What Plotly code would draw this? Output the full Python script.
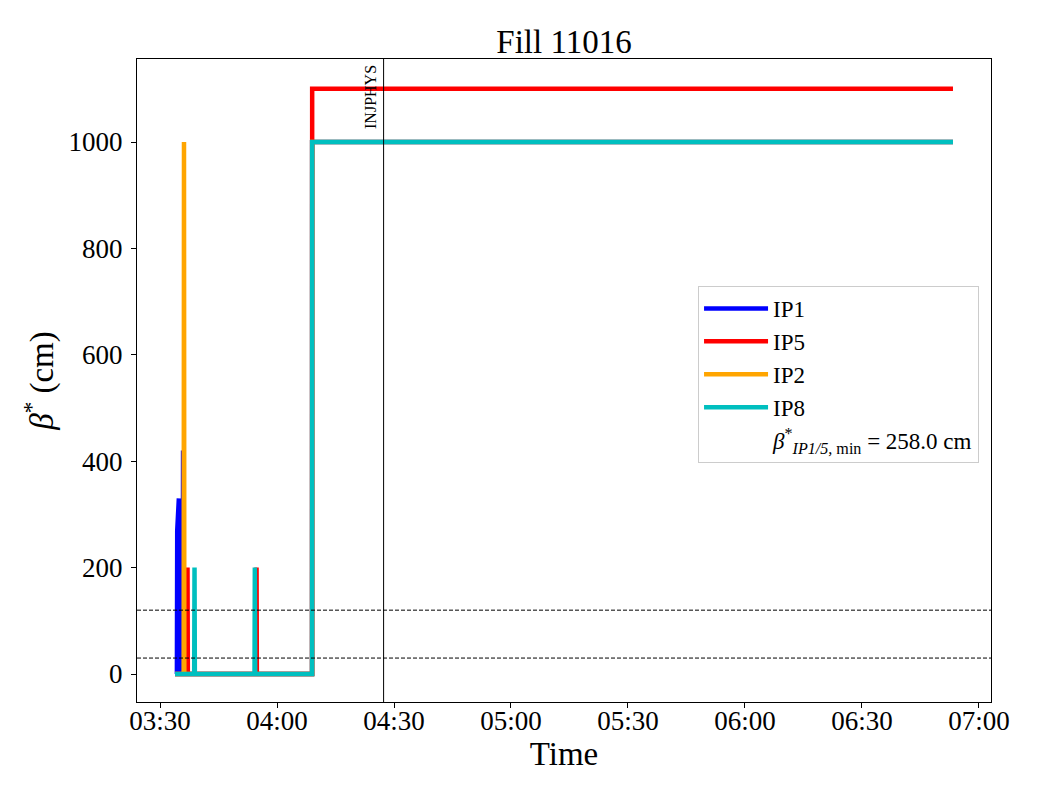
import plotly.graph_objects as go

DAY = "2025-08-15 "

# Series data (time of day, beta* in cm)
ip1_time = ["03:33:51", "03:34:20", "03:34:25", "03:34:50", "03:34:55", "03:35:50", "03:35:55", "03:36:00", "04:09:00", "04:09:01", "06:53:20"]
ip1_beta = [0, 0, 270, 330, 0, 0, 420, 0, 0, 1000, 1000]

ip5_time = ["03:33:51", "03:36:58", "03:37:03", "03:37:08", "03:54:40", "03:54:45", "03:54:50", "04:09:00", "04:09:01", "06:53:20"]
ip5_beta = [0, 0, 200, 0, 0, 200, 0, 0, 1100, 1100]

ip2_time = ["03:33:51", "03:36:04", "03:36:09", "03:36:14", "04:09:00", "04:09:01", "06:53:20"]
ip2_beta = [0, 0, 1000, 0, 0, 1000, 1000]

ip8_time = ["03:33:51", "03:38:46", "03:38:51", "03:38:56", "03:54:14", "03:54:19", "03:54:24", "04:09:00", "04:09:01", "06:53:20"]
ip8_beta = [0, 0, 200, 0, 0, 200, 0, 0, 1000, 1000]

series_names = ["IP1", "IP5", "IP2", "IP8"]
series_colors = ["#0000ff", "#ff0000", "#ffa500", "#00bfbf"]

injphys_time = "04:27:20"
ref_lines = [120, 30]
beta_min_label = "<i>β</i><sup>*</sup><sub><i>IP1/5,</i> min</sub> = 258.0 cm"

x_range = ["03:24:06", "07:03:05"]
y_range = [-52.6, 1156]
x_ticks = ["03:30", "04:00", "04:30", "05:00", "05:30", "06:00", "06:30", "07:00"]
y_ticks = [0, 200, 400, 600, 800, 1000]

FONT = "Liberation Serif, Times New Roman, serif"

fig = go.Figure()
data = [(ip1_time, ip1_beta), (ip5_time, ip5_beta), (ip2_time, ip2_beta), (ip8_time, ip8_beta)]
for (t, v), name, color in zip(data, series_names, series_colors):
    fig.add_trace(go.Scatter(
        x=[DAY + s for s in t], y=v, mode="lines", name=name, legendgroup=name,
        line=dict(color=color, width=4.5), hoverinfo="x+y+name"))

fig.add_trace(go.Scatter(x=[None], y=[None], mode="lines", name=beta_min_label,
                         legendgroup="betamin",
                         line=dict(color="rgba(0,0,0,0)", width=4)))

for yv in ref_lines:
    fig.add_shape(type="line", xref="paper", x0=0, x1=1, yref="y", y0=yv, y1=yv,
                  line=dict(color="black", width=1, dash="4px,2px"))

fig.add_shape(type="line", xref="x", x0=DAY + injphys_time, x1=DAY + injphys_time,
              yref="paper", y0=0, y1=1, line=dict(color="black", width=1))
fig.add_annotation(x=DAY + injphys_time, xref="x", y=0.994, yref="paper",
                   text="INJPHYS", textangle=-90, showarrow=False,
                   xanchor="right", yanchor="top", xshift=-2,
                   font=dict(family=FONT, size=16, color="black"))

fig.update_layout(
    width=1040, height=800,
    margin=dict(l=137, r=49, t=59, b=98),
    paper_bgcolor="white", plot_bgcolor="white",
    font=dict(family=FONT, color="black"),
    title=dict(text="Fill 11016", x=0.5, xref="paper", xanchor="center",
               y=1 - 41 / 800, yanchor="middle", font=dict(size=33)),
    showlegend=True,
    legend=dict(x=0.986, y=0.647, xanchor="right", yanchor="top",
                bgcolor="white", bordercolor="#cccccc", borderwidth=1,
                tracegroupgap=0, itemwidth=64,
                font=dict(size=23, family=FONT)),
    xaxis=dict(range=[DAY + x_range[0], DAY + x_range[1]], type="date",
               tickvals=[DAY + s for s in x_ticks], ticktext=x_ticks,
               ticks="outside", ticklen=5, tickcolor="black",
               showgrid=False, zeroline=False, showline=True, linecolor="black",
               linewidth=1, mirror=True, ticklabelstandoff=-10,
               tickfont=dict(size=27),
               title=dict(text="Time", font=dict(size=33), standoff=5)),
    yaxis=dict(range=y_range, tickvals=y_ticks,
               ticks="outside", ticklen=5, tickcolor="black",
               showgrid=False, zeroline=False, showline=True, linecolor="black",
               linewidth=1, mirror=True, ticklabelstandoff=3,
               tickfont=dict(size=27),
               title=dict(text="<i>β</i><sup>*</sup> (cm)", font=dict(size=33), standoff=5)),
)

fig.write_html("out.html", config={"displayModeBar": False},
               post_script="document.body.style.margin='0';")
